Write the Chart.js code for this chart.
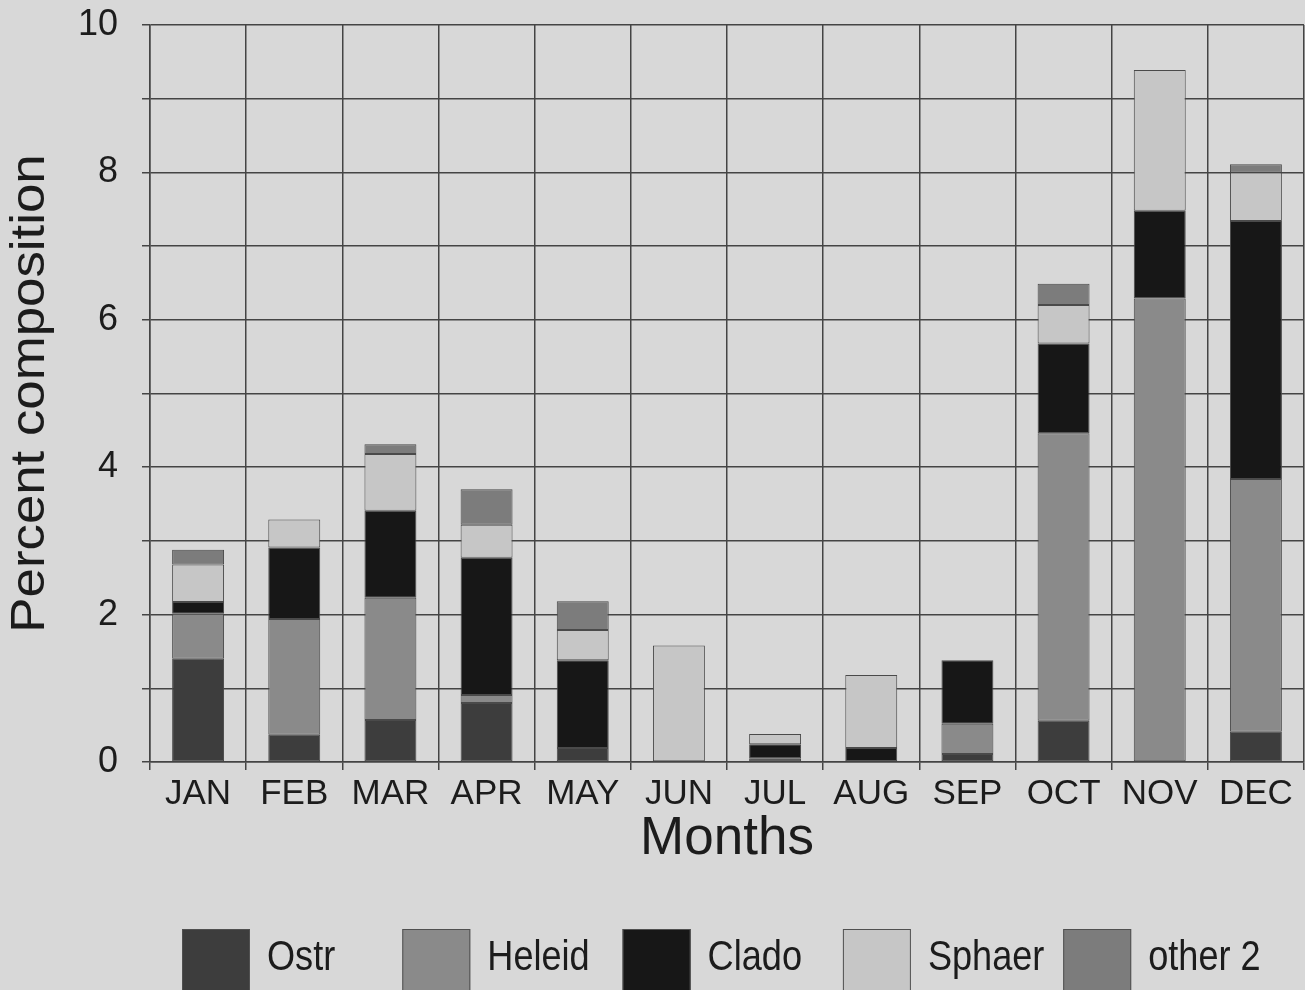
<!DOCTYPE html>
<html>
<head>
<meta charset="utf-8">
<title>Percent composition by month</title>
<script src="https://cdn.jsdelivr.net/npm/chart.js@4.4.1/dist/chart.umd.min.js"></script>
<style>
  html, body { margin: 0; padding: 0; background: #d8d8d8; }
  canvas { display: block; }
</style>
</head>
<body>
<canvas id="chart" width="1305" height="990"></canvas>
<script>
// Monthly composition (percent) of each group, stacked bottom to top
const months = ['JAN', 'FEB', 'MAR', 'APR', 'MAY', 'JUN', 'JUL', 'AUG', 'SEP', 'OCT', 'NOV', 'DEC'];
const ostr   = [1.40, 0.37, 0.57, 0.80, 0.19, 0.00, 0.05, 0.00, 0.11, 0.56, 0.00, 0.41];
const heleid = [0.61, 1.57, 1.66, 0.11, 0.00, 0.00, 0.00, 0.00, 0.41, 3.90, 6.29, 3.43];
const clado  = [0.16, 0.97, 1.18, 1.86, 1.19, 0.00, 0.19, 0.19, 0.86, 1.22, 1.19, 3.50];
const sphaer = [0.51, 0.38, 0.77, 0.45, 0.41, 1.58, 0.14, 0.99, 0.00, 0.52, 1.91, 0.66];
const other2 = [0.20, 0.00, 0.13, 0.48, 0.39, 0.00, 0.00, 0.00, 0.00, 0.29, 0.00, 0.11];
const seriesNames = ['Ostr', 'Heleid', 'Clado', 'Sphaer', 'other 2'];
const yTickValues = [0, 2, 4, 6, 8, 10];
const yTitle = 'Percent composition';

const seriesData = [ostr, heleid, clado, sphaer, other2];
const seriesFill = ['#3d3d3d', '#8a8a8a', '#171717', '#c6c6c6', '#7c7c7c'];
const gridColor = '#444444';
const textColor = '#1c1c1c';
const FONT = '"Liberation Sans", Arial, sans-serif';

// Draws text with a horizontal stretch factor (condensed or widened lettering)
function stretchedText(ctx, text, x, y, font, sx, angle) {
  ctx.save();
  ctx.translate(x, y);
  ctx.rotate(angle);
  ctx.scale(sx, 1);
  ctx.font = font;
  ctx.fillStyle = textColor;
  ctx.textBaseline = 'middle';
  ctx.fillText(text, 0, 0);
  ctx.restore();
}

// Rotated y-axis title, centred on the plot area
const yAxisTitle = {
  id: 'yAxisTitle',
  afterDraw(chart) {
    const ctx = chart.ctx;
    const area = chart.chartArea;
    ctx.save();
    ctx.textAlign = 'center';
    stretchedText(ctx, yTitle, 31, (area.top + area.bottom) / 2, '48px ' + FONT, 1.1, -Math.PI / 2);
    ctx.restore();
  }
};

// Legend drawn along the bottom with evenly pitched entries
const bottomLegend = {
  id: 'bottomLegend',
  afterDraw(chart) {
    const ctx = chart.ctx;
    const pitch = 220.3;
    const x0 = 182;
    const top = 929;
    const boxW = 68, boxH = 64;
    ctx.save();
    chart.data.datasets.forEach((ds, i) => {
      const x = x0 + i * pitch;
      ctx.fillStyle = ds.backgroundColor;
      ctx.fillRect(x, top, boxW, boxH);
      ctx.strokeStyle = '#505050';
      ctx.lineWidth = 1;
      ctx.strokeRect(x + 0.5, top + 0.5, boxW - 1, boxH - 1);
      ctx.textAlign = 'left';
      stretchedText(ctx, ds.label, x + boxW + 17, 958, '42px ' + FONT, 0.86, 0);
    });
    ctx.restore();
  }
};

const chart = new Chart(document.getElementById('chart'), {
  type: 'bar',
  data: {
    labels: months,
    datasets: seriesNames.map((name, i) => ({
      label: name,
      data: seriesData[i],
      backgroundColor: seriesFill[i],
      borderColor: '#4a4a4a',
      borderWidth: c => (c.raw ? 1 : 0),
      borderSkipped: false,
      categoryPercentage: 1.0,
      barPercentage: 0.54
    }))
  },
  options: {
    responsive: false,
    animation: false,
    devicePixelRatio: 1,
    layout: { padding: { top: 25, right: 1, bottom: 119, left: 0 } },
    plugins: {
      legend: { display: false },
      tooltip: { enabled: false }
    },
    scales: {
      x: {
        stacked: true,
        offset: true,
        grid: { color: gridColor, lineWidth: 1.5, tickLength: 8, offset: true, drawOnChartArea: true },
        border: { color: gridColor, width: 1.5 },
        ticks: { font: { size: 35, family: FONT }, color: textColor, padding: 3, maxRotation: 0, autoSkip: false },
        title: { display: true, text: 'Months', color: textColor, font: { size: 53, family: FONT }, padding: { top: 0, bottom: 0 } },
        afterFit(scale) { scale.height = 109; }
      },
      y: {
        stacked: true,
        min: 0,
        max: 10,
        grid: { color: gridColor, lineWidth: 1.5, tickLength: 8 },
        border: { color: gridColor, width: 1.5 },
        ticks: {
          stepSize: 1,
          font: { size: 36, family: FONT },
          color: textColor,
          padding: 24,
          callback: v => (yTickValues.includes(v) ? String(v) : '')
        },
        title: { display: false },
        afterFit(scale) {
          scale.width = 150;
          scale.paddingTop = 0;
          scale.paddingBottom = 0;
        }
      }
    }
  },
  plugins: [yAxisTitle, bottomLegend]
});
</script>
</body>
</html>
